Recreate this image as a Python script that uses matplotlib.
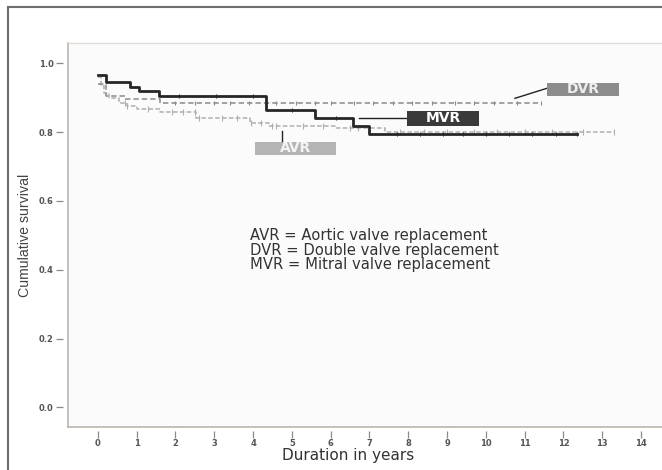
import numpy as np
import matplotlib
matplotlib.use("Agg")
import matplotlib.pyplot as plt
from matplotlib.patches import Rectangle
from matplotlib.lines import Line2D

# Kaplan-Meier steps (time in years, cumulative survival)
mvr_t = [0, 0.22, 0.83, 1.07, 1.58, 4.33, 5.59, 6.58, 6.98, 12.35]
mvr_s = [0.967, 0.944, 0.931, 0.918, 0.904, 0.865, 0.842, 0.819, 0.794, 0.794]
mvr_cens = [2.1, 3.05, 4.0, 5.0, 6.15, 7.7, 8.3, 8.9, 9.4, 10.0, 10.6, 11.2, 11.8, 12.35]

dvr_t = [0, 0.2, 0.7, 1.6, 11.42]
dvr_s = [0.940, 0.905, 0.896, 0.885, 0.885]
dvr_cens = [2.0, 2.5, 3.0, 3.4, 3.9, 4.6, 5.1, 5.6, 6.0, 6.6, 7.1, 7.6, 8.1,
            8.6, 9.2, 9.7, 10.2, 10.8, 11.42]

avr_t = [0, 0.08, 0.15, 0.3, 0.55, 0.75, 1.0, 1.6, 2.54, 3.92, 4.4, 6.1, 7.4, 13.3]
avr_s = [0.960, 0.935, 0.913, 0.898, 0.885, 0.876, 0.866, 0.857, 0.840, 0.826,
         0.818, 0.811, 0.800, 0.800]
avr_cens = [0.7, 0.75, 1.3, 1.9, 2.2, 2.5, 2.6, 3.2, 3.6, 3.95, 4.2, 4.5, 4.6,
            5.3, 5.8, 6.5, 6.7, 7.8, 8.4, 9.0, 9.7, 10.3, 11.0, 11.7, 12.5, 13.3]

x_ticks = list(range(0, 15))
y_ticks = [0.0, 0.2, 0.4, 0.6, 0.8, 1.0]

legend_lines = ["AVR = Aortic valve replacement",
                "DVR = Double valve replacement",
                "MVR = Mitral valve replacement"]

# label boxes: name, x0, x1, y0, y1, face, text colour
boxes = [("DVR", 11.57, 13.43, 0.905, 0.943, "#8c8c8c", "#eeeeee"),
         ("MVR", 7.96, 9.83, 0.818, 0.861, "#3a3a3a", "#ffffff"),
         ("AVR", 4.04, 6.15, 0.733, 0.772, "#b4b4b4", "#f4f4f4")]
leaders = [((10.75, 11.57), (0.898, 0.927)),
           ((6.73, 7.96), (0.840, 0.840)),
           ((4.75, 4.75), (0.804, 0.772))]


def at(t, s, c):
    idx = np.searchsorted(t, c, side="right") - 1
    return np.asarray(s)[idx]


fig = plt.figure(figsize=(6.62, 4.70), dpi=100)
ax = fig.add_axes([0.102, 0.092, 0.925, 0.816])
ax.set_facecolor("#fbfbfb")

ax.step(avr_t, avr_s, where="post", color="#b0b0b0", lw=1.1, ls=(0, (3, 1.5)))
ax.plot(avr_cens, at(avr_t, avr_s, avr_cens), ls="none", marker="|",
        ms=4, color="#b0b0b0", mew=0.8)

ax.step(dvr_t, dvr_s, where="post", color="#8a8a8a", lw=1.1, ls=(0, (3.5, 2)))
ax.plot(dvr_cens, at(dvr_t, dvr_s, dvr_cens), ls="none", marker="|",
        ms=3, color="#8a8a8a", mew=0.8)

ax.step(mvr_t, mvr_s, where="post", color="#262626", lw=2)
ax.plot(mvr_cens, at(mvr_t, mvr_s, mvr_cens), ls="none", marker="|",
        ms=3, color="#262626", mew=0.8)

for name, x0, x1, y0, y1, fc, tc in boxes:
    ax.add_patch(Rectangle((x0, y0), x1 - x0, y1 - y0, facecolor=fc,
                           edgecolor="none", zorder=4))
    ax.text((x0 + x1) / 2, (y0 + y1) / 2, name, ha="center", va="center",
            color=tc, fontsize=10, fontweight="bold", zorder=5)
for xs, ys in leaders:
    ax.plot(xs, ys, color="#222222", lw=1, zorder=3)

ax.text(3.93, 0.457, "\n".join(legend_lines), ha="left", va="center",
        fontsize=10.6, color="#333333", linespacing=0.98)

ax.set_xlim(-0.78, 15.0)
ax.set_ylim(-0.056, 1.058)
ax.set_xticks(x_ticks)
ax.set_yticks(y_ticks)
ax.set_yticklabels([f"{v:.1f}" for v in y_ticks])

# SPSS style: ticks sit a little away from the frame
for side in ["left", "bottom"]:
    ax.spines[side].set_position(("outward", 3))
    ax.spines[side].set_color("none")
for side in ["top", "right"]:
    ax.spines[side].set_visible(False)
ax.plot([0, 0], [0, 1], transform=ax.transAxes, color="#bdb5ad", lw=1.2, clip_on=False)
ax.plot([0, 1], [0, 0], transform=ax.transAxes, color="#bdb5ad", lw=1.2, clip_on=False)
ax.plot([0, 1], [1, 1], transform=ax.transAxes, color="#e2ddd8", lw=1, clip_on=False)

ax.tick_params(axis="both", length=5, width=0.9, color="#8a8a8a",
               labelsize=6, labelcolor="#555555", pad=2)
ax.tick_params(axis="x", pad=0.5)
for lab in ax.get_xticklabels() + ax.get_yticklabels():
    lab.set_fontweight("bold")

ax.set_xlabel("Duration in years", fontsize=11, color="#333333")
ax.xaxis.set_label_coords(0.458, -0.055)
ax.set_ylabel("Cumulative survival", fontsize=10.2, color="#444444",
              family="Liberation Sans")
ax.yaxis.set_label_coords(-0.058, 0.5)

# outer frame of the figure panel
fig.add_artist(Line2D([0.0115, 0.0115], [0, 0.986], color="#6e6e6e", lw=1.5))
fig.add_artist(Line2D([0.0115, 1.0], [0.986, 0.986], color="#6e6e6e", lw=1.5))

fig.savefig("out.png", dpi=100)
